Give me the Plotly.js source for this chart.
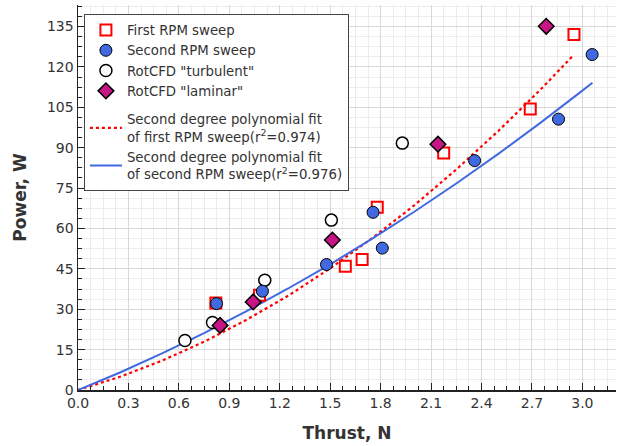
<!DOCTYPE html>
<html>
<head>
<meta charset="utf-8">
<script src="https://cdn.plot.ly/plotly-3.0.1.min.js"></script>
<style>html,body{margin:0;padding:0;background:#fff;}#chart{width:617px;height:446px;}</style>
</head>
<body>
<div id="chart"></div>
<script>
// First RPM sweep (red squares)
var firstX = [0.82, 1.08, 1.59, 1.69, 1.78, 2.175, 2.69, 2.95];
var firstY = [32.3, 35.2, 46.0, 48.5, 67.9, 88.0, 104.4, 132.0];
// Second RPM sweep (blue circles)
var secondX = [0.824, 1.097, 1.478, 1.755, 1.81, 2.359, 2.858, 3.058];
var secondY = [32.1, 36.7, 46.6, 66.0, 52.7, 85.2, 100.6, 124.6];
// RotCFD "turbulent" (open circles)
var turbX = [0.636, 0.80, 1.111, 1.507, 1.929];
var turbY = [18.4, 25.1, 40.8, 63.1, 91.7];
// RotCFD "laminar" (diamonds)
var lamX = [0.845, 1.042, 1.513, 2.141, 2.785];
var lamY = [24.0, 32.7, 55.7, 91.3, 135.1];
// Polynomial fit curves
var fit1X = [0, 0.25, 0.5, 0.75, 1.0, 1.25, 1.5, 1.75, 2.0, 2.25, 2.5, 2.75, 2.94];
var fit1Y = [0, 4.9, 10.9, 17.9, 26.0, 35.0, 45.2, 56.4, 68.6, 81.9, 96.2, 111.5, 123.9];
var fit2X = [0, 0.25, 0.5, 0.75, 1.0, 1.25, 1.5, 1.75, 2.0, 2.25, 2.5, 2.75, 3.0, 3.06];
var fit2Y = [0, 6.5, 13.6, 21.1, 29.2, 37.7, 46.7, 56.2, 66.2, 76.7, 87.7, 99.2, 111.2, 114.1];

var xTicks = [0, 0.3, 0.6, 0.9, 1.2, 1.5, 1.8, 2.1, 2.4, 2.7, 3.0];
var xTickText = ['0.0','0.3','0.6','0.9','1.2','1.5','1.8','2.1','2.4','2.7','3.0'];
var yTicks = [0, 15, 30, 45, 60, 75, 90, 105, 120, 135];

var traces = [
  {x: fit1X, y: fit1Y, mode: 'lines', type: 'scatter', name: 'Second degree polynomial fit<br>of first RPM sweep(r<sup>2</sup>=0.974)',
   line: {color: '#ff0000', width: 2.2, dash: 'dot'}, legendgroup: 'b', legendrank: 5},
  {x: fit2X, y: fit2Y, mode: 'lines', type: 'scatter', name: 'Second degree polynomial fit<br>of second RPM sweep(r<sup>2</sup>=0.976)',
   line: {color: '#4169e1', width: 2}, legendgroup: 'b', legendrank: 6},
  {x: firstX, y: firstY, mode: 'markers', type: 'scatter', name: 'First RPM sweep',
   marker: {symbol: 'square', size: 11, color: 'rgba(255,255,255,0)', line: {color: '#ff0000', width: 2}}, legendgroup: 'a', legendrank: 1},
  {x: turbX, y: turbY, mode: 'markers', type: 'scatter', name: 'RotCFD "turbulent"',
   marker: {symbol: 'circle', size: 12, color: '#ffffff', line: {color: '#000000', width: 1.5}}, legendgroup: 'a', legendrank: 3},
  {x: secondX, y: secondY, mode: 'markers', type: 'scatter', name: 'Second RPM sweep',
   marker: {symbol: 'circle', size: 12, color: '#4169e1', line: {color: '#000000', width: 1}}, legendgroup: 'a', legendrank: 2},
  {x: lamX, y: lamY, mode: 'markers', type: 'scatter', name: 'RotCFD "laminar"',
   marker: {symbol: 'diamond', size: 12, color: '#c71585', line: {color: '#000000', width: 1.5}}, legendgroup: 'a', legendrank: 4}
];

var layout = {
  width: 617, height: 446,
  margin: {l: 78, r: 1, t: 5, b: 56},
  paper_bgcolor: '#ffffff', plot_bgcolor: '#ffffff',
  font: {family: 'DejaVu Sans, sans-serif', size: 13, color: '#333'},
  showlegend: true,
  legend: {x: 0.011, y: 0.977, xanchor: 'left', yanchor: 'top', bgcolor: '#ffffff',
           bordercolor: '#444', borderwidth: 1, font: {size: 13.3, color: '#333'},
           tracegroupgap: 8, traceorder: 'grouped', itemwidth: 32},
  xaxis: {range: [0, 3.2], tickvals: xTicks, ticktext: xTickText, showgrid: true, gridcolor: '#d8d8d8', gridwidth: 1,
          zeroline: false, showline: true, linecolor: '#222', linewidth: 1.5, ticks: 'inside', ticklen: 7, tickcolor: '#222',
          tickfont: {size: 14, color: '#333'},
          minor: {dtick: 0.075, showgrid: true, gridcolor: '#ececec', ticks: 'inside', ticklen: 4, tickcolor: '#222'},
          title: {text: '<b>Thrust, N</b>', font: {size: 17, color: '#333'}, standoff: 17}},
  yaxis: {range: [0, 143], tickvals: yTicks, showgrid: true, gridcolor: '#d8d8d8', gridwidth: 1,
          zeroline: false, showline: true, linecolor: '#222', linewidth: 1.5, ticks: 'inside', ticklen: 7, tickcolor: '#222',
          tickfont: {size: 14, color: '#333'},
          minor: {dtick: 3.75, showgrid: true, gridcolor: '#ececec', ticks: 'inside', ticklen: 4, tickcolor: '#222'},
          title: {text: '<b>Power, W</b>', font: {size: 17, color: '#333'}, standoff: 16}}
};

Plotly.newPlot('chart', traces, layout, {displayModeBar: false, staticPlot: true});
</script>
</body>
</html>
